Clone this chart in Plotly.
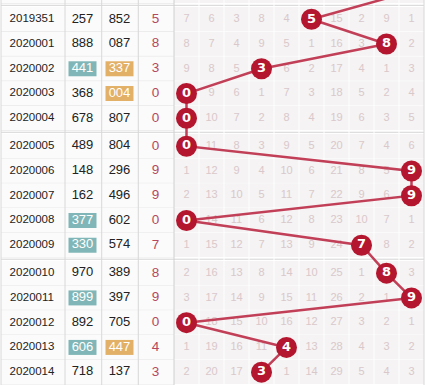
import plotly.graph_objects as go

# ---------------- data ----------------
periods = ["2019351", "2020001", "2020002", "2020003", "2020004",
           "2020005", "2020006", "2020007", "2020008", "2020009",
           "2020010", "2020011", "2020012", "2020013", "2020014"]
num_a = ["257", "888", "441", "368", "678", "489", "148", "162", "377", "330",
         "970", "899", "892", "606", "718"]
num_b = ["852", "087", "337", "004", "807", "804", "296", "496", "602", "574",
         "389", "397", "705", "447", "137"]
values = [5, 8, 3, 0, 0, 0, 9, 9, 0, 7, 8, 9, 0, 4, 3]
prev_value = 9  # value of the period just above the visible window
omission = [
    [7, 6, 3, 8, 4, 0, 15, 2, 9, 1],
    [8, 7, 4, 9, 5, 1, 16, 3, 0, 2],
    [9, 8, 5, 0, 6, 2, 17, 4, 1, 3],
    [0, 9, 6, 1, 7, 3, 18, 5, 2, 4],
    [0, 10, 7, 2, 8, 4, 19, 6, 3, 5],
    [0, 11, 8, 3, 9, 5, 20, 7, 4, 6],
    [1, 12, 9, 4, 10, 6, 21, 8, 5, 0],
    [2, 13, 10, 5, 11, 7, 22, 9, 6, 0],
    [0, 14, 11, 6, 12, 8, 23, 10, 7, 1],
    [1, 15, 12, 7, 13, 9, 24, 0, 8, 2],
    [2, 16, 13, 8, 14, 10, 25, 1, 0, 3],
    [3, 17, 14, 9, 15, 11, 26, 2, 1, 0],
    [0, 18, 15, 10, 16, 12, 27, 3, 2, 1],
    [1, 19, 16, 11, 0, 13, 28, 4, 3, 2],
    [2, 20, 17, 0, 1, 14, 29, 5, 4, 3],
]
digits = list(range(10))

# ---------------- geometry ----------------
W, H = 428, 385
TOP = 6.9
RH = 24.75
GAP = 3.2
GROUP = 5
X_PER, X_A, X_B, X_V = 32, 82.5, 119.5, 155.5
COL0, CW = 186.5, 25
L_EDGES = [1, 65, 101.7, 138.3]
SPLIT = 174
RIGHT = 424

def row_y(i):
    return TOP + i * RH + (i // GROUP) * GAP + RH / 2

def col_x(d):
    return COL0 + CW * d

def is_pair(s):
    return len(set(s)) == 2

n = len(periods)
ys = [row_y(i) for i in range(n)]

shapes = []
# backgrounds
for i in range(-1, n + 1):
    yc = row_y(i)
    y0, y1 = yc - RH / 2, yc + RH / 2
    shapes.append(dict(type="rect", x0=L_EDGES[0], x1=SPLIT, y0=y0, y1=y1,
                       fillcolor="#fbfbfb", line=dict(width=0), layer="below"))
    shapes.append(dict(type="rect", x0=SPLIT, x1=RIGHT, y0=y0, y1=y1,
                       fillcolor="#f5f3f3", line=dict(width=0), layer="below"))
    # row boundary lines
    shapes.append(dict(type="line", x0=L_EDGES[0], x1=SPLIT, y0=y1, y1=y1,
                       line=dict(color="#e4e4e4", width=1), layer="below"))
    shapes.append(dict(type="line", x0=SPLIT, x1=RIGHT, y0=y1, y1=y1,
                       line=dict(color="#ffffff", width=1), layer="below"))
# group separators
for i in range(-1, n + 1):
    if i % GROUP == 0:
        ysep = row_y(i) - RH / 2 - GAP / 2
        shapes.append(dict(type="rect", x0=L_EDGES[0], x1=RIGHT, y0=ysep - GAP / 2, y1=ysep + GAP / 2,
                           fillcolor="#ffffff", line=dict(width=0), layer="below"))
        shapes.append(dict(type="line", x0=L_EDGES[0], x1=RIGHT, y0=ysep, y1=ysep,
                           line=dict(color="#d4d4d4", width=1), layer="below"))
# vertical lines
for x in L_EDGES:
    shapes.append(dict(type="line", x0=x, x1=x, y0=0, y1=H,
                       line=dict(color="#d8d8d8", width=1), layer="below"))
for d in range(1, 10):
    x = col_x(d) - CW / 2
    shapes.append(dict(type="line", x0=x, x1=x, y0=0, y1=H,
                       line=dict(color="#ffffff", width=1), layer="below"))
shapes.append(dict(type="line", x0=SPLIT, x1=SPLIT, y0=0, y1=H,
                   line=dict(color="#d0d0d0", width=1), layer="below"))
shapes.append(dict(type="line", x0=RIGHT, x1=RIGHT, y0=0, y1=H,
                   line=dict(color="#d8d8d8", width=1), layer="below"))
# highlight boxes
for i in range(n):
    if is_pair(num_a[i]):
        shapes.append(dict(type="rect", x0=X_A - 14, x1=X_A + 14, y0=ys[i] - 7.5, y1=ys[i] + 7.5,
                           fillcolor="#80b6b7", line=dict(width=0), layer="below"))
    if is_pair(num_b[i]):
        shapes.append(dict(type="rect", x0=X_B - 14, x1=X_B + 14, y0=ys[i] - 7.5, y1=ys[i] + 7.5,
                           fillcolor="#e2b067", line=dict(width=0), layer="below"))

fig = go.Figure()

font_main = "Liberation Sans, Arial, sans-serif"

fig.add_trace(go.Scatter(x=[X_PER] * n, y=ys, text=periods, mode="text",
                         textfont=dict(family=font_main, size=11.5, color="#222222"),
                         hoverinfo="skip"))
fig.add_trace(go.Scatter(x=[X_A] * n, y=ys, text=num_a, mode="text",
                         textfont=dict(family=font_main, size=13,
                                       color=["#ffffff" if is_pair(s) else "#222222" for s in num_a]),
                         hoverinfo="skip"))
fig.add_trace(go.Scatter(x=[X_B] * n, y=ys, text=num_b, mode="text",
                         textfont=dict(family=font_main, size=13,
                                       color=["#ffffff" if is_pair(s) else "#222222" for s in num_b]),
                         hoverinfo="skip"))
fig.add_trace(go.Scatter(x=[X_V] * n, y=ys, text=[str(v) for v in values], mode="text",
                         textfont=dict(family=font_main, size=13.5, color="#b5485e"),
                         hoverinfo="skip"))

# omission values
ox, oy, ot = [], [], []
for i in range(n):
    for d in digits:
        if values[i] != d:
            ox.append(col_x(d))
            oy.append(ys[i])
            ot.append(str(omission[i][d]))
fig.add_trace(go.Scatter(x=ox, y=oy, text=ot, mode="text",
                         textfont=dict(family=font_main, size=11, color="#d9c8cb"),
                         hoverinfo="skip"))

# trend line
lx = [col_x(prev_value)] + [col_x(v) for v in values]
ly = [row_y(-1)] + ys
fig.add_trace(go.Scatter(x=lx, y=ly, mode="lines",
                         line=dict(color="#c23f58", width=2.5), hoverinfo="skip"))
# balls
fig.add_trace(go.Scatter(x=[col_x(v) for v in values], y=ys, mode="markers+text",
                         text=[str(v) for v in values], textposition="middle center",
                         marker=dict(size=21, color="#b3162e", line=dict(width=0)),
                         textfont=dict(family="DejaVu Sans, sans-serif", size=13, color="#ffffff",
                                       weight="bold"),
                         hoverinfo="skip"))

fig.update_layout(
    width=W, height=H, margin=dict(l=0, r=0, t=0, b=0),
    paper_bgcolor="#ffffff", plot_bgcolor="#ffffff",
    showlegend=False, shapes=shapes,
    xaxis=dict(range=[0, W], visible=False, fixedrange=True),
    yaxis=dict(range=[H, 0], visible=False, fixedrange=True),
)
fig.write_html("out.html")
